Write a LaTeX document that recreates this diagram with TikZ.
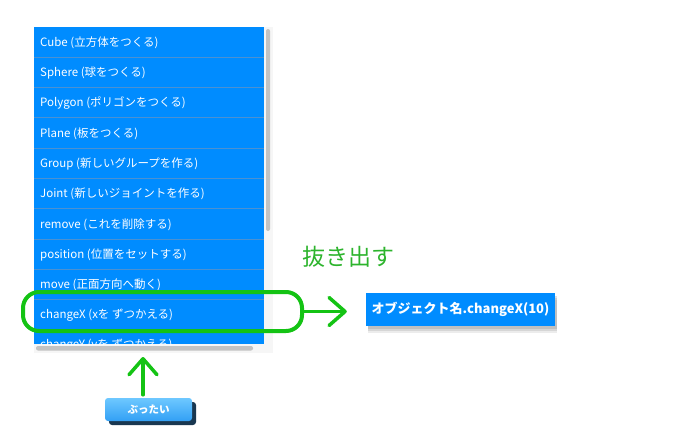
\documentclass[tikz,border=0pt]{standalone}
\usepackage{fontspec}
\setmainfont{Noto Sans CJK JP}
\usetikzlibrary{arrows.meta,positioning,shadows}
\definecolor{listblue}{RGB}{0,140,255}
\definecolor{rowline}{RGB}{75,145,210}
\definecolor{hlgreen}{RGB}{20,195,20}
\definecolor{txtgreen}{RGB}{45,180,45}
\definecolor{barg}{RGB}{195,195,195}
\definecolor{panel}{RGB}{246,246,246}
\definecolor{btntop}{RGB}{110,200,255}
\definecolor{btnbot}{RGB}{50,160,245}
\definecolor{btndark}{RGB}{25,55,80}
\tikzset{
  row/.style={anchor=west, text=white, inner sep=0pt, font=\fontsize{11.5}{13}\selectfont},
  pick/.style={draw=hlgreen, line width=4pt, rounded corners=16pt, minimum width=279pt, minimum height=39pt},
  grarrow/.style={draw=hlgreen, line width=3.5pt, line cap=round,
    -{Straight Barb[length=16pt,width=28pt,line cap=round,line join=round]}},
  outbox/.style={fill=listblue, text=white, minimum width=189pt, minimum height=33pt, inner sep=0pt,
    font=\bfseries\fontsize{13}{15}\selectfont,
    drop shadow={opacity=0.15, shadow xshift=2pt, shadow yshift=-7pt},
    drop shadow={opacity=0.2, shadow xshift=2pt, shadow yshift=-5pt},
    drop shadow={opacity=0.25, shadow xshift=1.5pt, shadow yshift=-3pt}},
  btn/.style={top color=btntop, bottom color=btnbot, rounded corners=3pt, text=white,
    minimum width=87pt, minimum height=23pt, inner sep=0pt, font=\bfseries\fontsize{10.5}{12}\selectfont,
    drop shadow={fill=btndark, opacity=1, shadow xshift=4pt, shadow yshift=-4pt}}
}
\begin{document}
\begin{tikzpicture}[x=1pt,y=-1pt]
\useasboundingbox[fill=white] (0,0) rectangle (680,447);
% list panel
\fill[panel] (34,27) rectangle (273,353);
\begin{scope}
  \clip (34,27) rectangle (264,344);
  \fill[listblue] (34,27) rectangle (264,344);
  \foreach \t [count=\i] in {{Cube (立方体をつくる)}, {Sphere (球をつくる)}, {Polygon (ポリゴンをつくる)},
      {Plane (板をつくる)}, {Group (新しいグループを作る)}, {Joint (新しいジョイントを作る)},
      {remove (これを削除する)}, {position (位置をセットする)}, {move (正面方向へ動く)},
      {changeX (xを ずつかえる)}, {changeY (yを ずつかえる)}}
  {
    \pgfmathsetmacro\ry{27+(\i-1)*30.3}
    \ifnum\i>1 \draw[rowline, line width=1pt] (34,\ry) -- (264,\ry); \fi
    \node[row] (r\i) at (40,\ry+15.5) {\t};
  }
\end{scope}
% scroll bars
\fill[barg, rounded corners=2pt] (266,29) rectangle (270,231);
\fill[barg, rounded corners=2pt] (36,346) rectangle (253,350.5);
\coordinate (lbot) at (143,357);
% highlight and result
\node[pick] (pick) at (162.5,311.5) {};
\node[font=\fontsize{23}{25}\selectfont, text=txtgreen, anchor=west, inner sep=0pt] (ttl) at (302,257) {抜き出す};
\node[outbox] (out) at (460.5,309) {オブジェクト名.changeX(10)};
\draw[grarrow, shorten >=19pt] (pick.east) -- (pick.east -| out.west);
% button
\node[btn] (btn) at (148.5,409.5) {ぶったい};
\draw[grarrow, shorten <=3pt] (btn.north -| lbot) -- (lbot);
\end{tikzpicture}
\end{document}
